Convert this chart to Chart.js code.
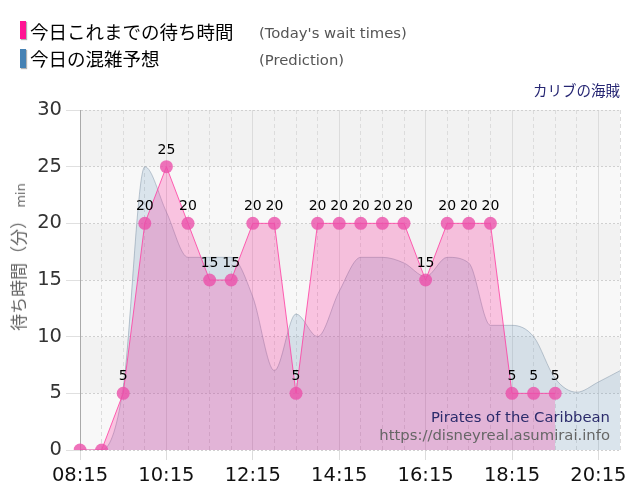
<!DOCTYPE html>
<html lang="ja">
<head>
<meta charset="utf-8">
<title>カリブの海賊</title>
<script src="https://cdn.jsdelivr.net/npm/chart.js@4.4.1/dist/chart.umd.min.js"></script>
<style>
  body { margin: 0; background: #fff; }
  #wrap { position: relative; width: 640px; height: 500px; overflow: hidden; }
  #wrap div { position: absolute; white-space: nowrap; line-height: 1; }
  .bar { width: 6px; box-shadow: 1px 1px 1px rgba(0, 0, 0, 0.3); }
  .jp { font-family: "Noto Sans CJK JP", sans-serif; }
  .en { font-family: "DejaVu Sans", sans-serif; font-size: 14.8px; color: #555; }
</style>
</head>
<body>
<div id="wrap">
  <canvas id="chart" width="640" height="500"></canvas>

  <div class="bar" style="left:20px;top:21px;height:18px;background:#ff1493"></div>
  <div class="jp" style="left:30px;top:21.7px;font-size:18.5px;color:#000">今日これまでの待ち時間</div>
  <div class="en" style="left:259px;top:25.6px">(Today's wait times)</div>

  <div class="bar" style="left:20px;top:49px;height:19px;background:#4682b4"></div>
  <div class="jp" style="left:30px;top:48.7px;font-size:18.5px;color:#000">今日の混雑予想</div>
  <div class="en" style="left:259px;top:52.9px">(Prediction)</div>

  <div class="jp" style="right:20px;top:83.4px;font-size:14.5px;color:#262673">カリブの海賊</div>

  <div class="jp" style="left:18px;top:257px;font-size:17px;color:#666;transform:translate(-50%,-50%) rotate(-90deg)">待ち時間（分）<span style="font-family:'DejaVu Sans';font-size:13px"> min</span></div>

  <div class="en" style="right:30px;top:409.5px;color:#2b2b6b">Pirates of the Caribbean</div>
  <div class="en" style="right:30px;top:427.5px;color:#666">https://disneyreal.asumirai.info</div>
</div>

<script>
"use strict";

// time slots every 30 min (x axis)
const timeLabels = [
  "08:15", "08:45", "09:15", "09:45", "10:15", "10:45", "11:15", "11:45",
  "12:15", "12:45", "13:15", "13:45", "14:15", "14:45", "15:15", "15:45",
  "16:15", "16:45", "17:15", "17:45", "18:15", "18:45", "19:15", "19:45",
  "20:15", "20:45",
];

// today's wait times so far (min)
const waitTimes = [
  0, 0, 5, 20, 25, 20, 15, 15, 20, 20, 5, 20, 20, 20, 20, 20, 15, 20, 20, 20,
  5, 5, 5,
];

// prediction (min)
const prediction = [
  0, 0, 5.5, 25, 21, 17, 17, 17, 13.5, 7, 12, 10, 14, 17, 17, 16.5, 15.3, 17,
  16.5, 11, 11, 10, 6.3, 5.1, 6, 7,
];

// y ticks
const yTicks = [0, 5, 10, 15, 20, 25, 30];

const tickFont = { family: "DejaVu Sans", size: 19.5 };

// alternating bands behind the plot
const bands = {
  id: "bands",
  beforeDraw(chart) {
    const { ctx, chartArea: a, scales: { y } } = chart;
    ctx.save();
    for (let i = 0; i < yTicks.length - 1; i++) {
      const top = y.getPixelForValue(yTicks[i + 1]);
      const bottom = y.getPixelForValue(yTicks[i]);
      ctx.fillStyle = i % 2 ? "#f2f2f2" : "#f8f8f8";
      ctx.fillRect(a.left, top, a.right - a.left, bottom - top);
    }
    ctx.restore();
  },
};

// numbers above the wait time points
const valueLabels = {
  id: "valueLabels",
  afterDatasetsDraw(chart) {
    const { ctx } = chart;
    const meta = chart.getDatasetMeta(0);
    ctx.save();
    ctx.font = "14px 'DejaVu Sans'";
    ctx.fillStyle = "#000";
    ctx.textAlign = "center";
    ctx.textBaseline = "alphabetic";
    meta.data.forEach((pt, i) => {
      if (waitTimes[i] > 0) ctx.fillText(waitTimes[i], pt.x, pt.y - 13);
    });
    ctx.restore();
  },
};

const isMajor = (c) => c.index % 4 === 0;

new Chart(document.querySelector("#chart"), {
  type: "line",
  data: {
    labels: timeLabels,
    datasets: [
      {
        label: "今日これまでの待ち時間",
        data: waitTimes,
        borderColor: "rgba(255, 60, 160, 0.8)",
        borderWidth: 1,
        backgroundColor: "rgba(255, 20, 147, 0.23)",
        fill: "origin",
        tension: 0,
        pointRadius: 6.5,
        pointBorderWidth: 0,
        pointBackgroundColor: "rgba(235, 80, 170, 0.8)",
      },
      {
        label: "今日の混雑予想",
        data: prediction,
        borderColor: "rgba(120, 140, 160, 0.45)",
        borderWidth: 1,
        backgroundColor: "rgba(70, 130, 180, 0.17)",
        fill: "origin",
        cubicInterpolationMode: "monotone",
        pointRadius: 0,
      },
    ],
  },
  options: {
    responsive: false,
    animation: false,
    layout: { padding: { top: 110, right: 20, left: 0, bottom: 0 } },
    plugins: { legend: { display: false }, tooltip: { enabled: false } },
    scales: {
      x: {
        afterFit: (s) => { s.height = 50; },
        grid: {
          color: "#dcdcdc",
          tickLength: 10,
          tickColor: (c) => (isMajor(c) ? "#dcdcdc" : "rgba(0,0,0,0)"),
        },
        border: {
          display: false,
          dash: (c) => (isMajor(c) ? [] : [4, 3]),
        },
        ticks: {
          autoSkip: false,
          maxRotation: 0,
          padding: 4,
          color: "#111",
          font: tickFont,
          callback: (v, i) => (i % 4 === 0 ? timeLabels[i] : ""),
        },
      },
      y: {
        min: 0,
        max: 30,
        afterFit: (s) => { s.width = 80; },
        grid: { color: "#d0d0d0", tickLength: 14, tickColor: "#e0e0e0" },
        border: { color: "#aaa", dash: [2, 2] },
        ticks: { stepSize: 5, padding: 4, color: "#333", font: tickFont },
      },
    },
  },
  plugins: [bands, valueLabels],
});
</script>
</body>
</html>
